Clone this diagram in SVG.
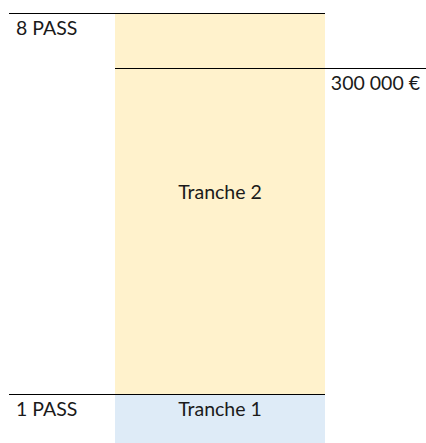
<svg xmlns="http://www.w3.org/2000/svg" width="426" height="443" viewBox="0 0 426 443">
<style>
text{font-family:Lato,"Open Sans","Liberation Sans",sans-serif;font-size:19.5px;fill:#1a1a1a}
.ln{stroke:#000;stroke-width:1.2}
</style>
<rect width="426" height="443" fill="#fff"/>
<g id="tranche2"><rect x="115" y="13" width="210" height="381" fill="#FFF2CC"/><text x="220" y="199" text-anchor="middle">Tranche 2</text></g>
<g id="tranche1"><rect x="115" y="394" width="210" height="49" fill="#DEEBF7"/><text x="220" y="416" text-anchor="middle">Tranche 1</text></g>
<g id="connectors">
<line class="ln" x1="9" y1="13.5" x2="325" y2="13.5"/>
<line class="ln" x1="115" y1="68.5" x2="426" y2="68.5"/>
<line class="ln" x1="9" y1="394.5" x2="325" y2="394.5"/>
</g>
<g id="labels">
<text x="16" y="35">8 PASS</text>
<text x="420" y="90" text-anchor="end">300 000 €</text>
<text x="16" y="416">1 PASS</text>
</g>
</svg>
